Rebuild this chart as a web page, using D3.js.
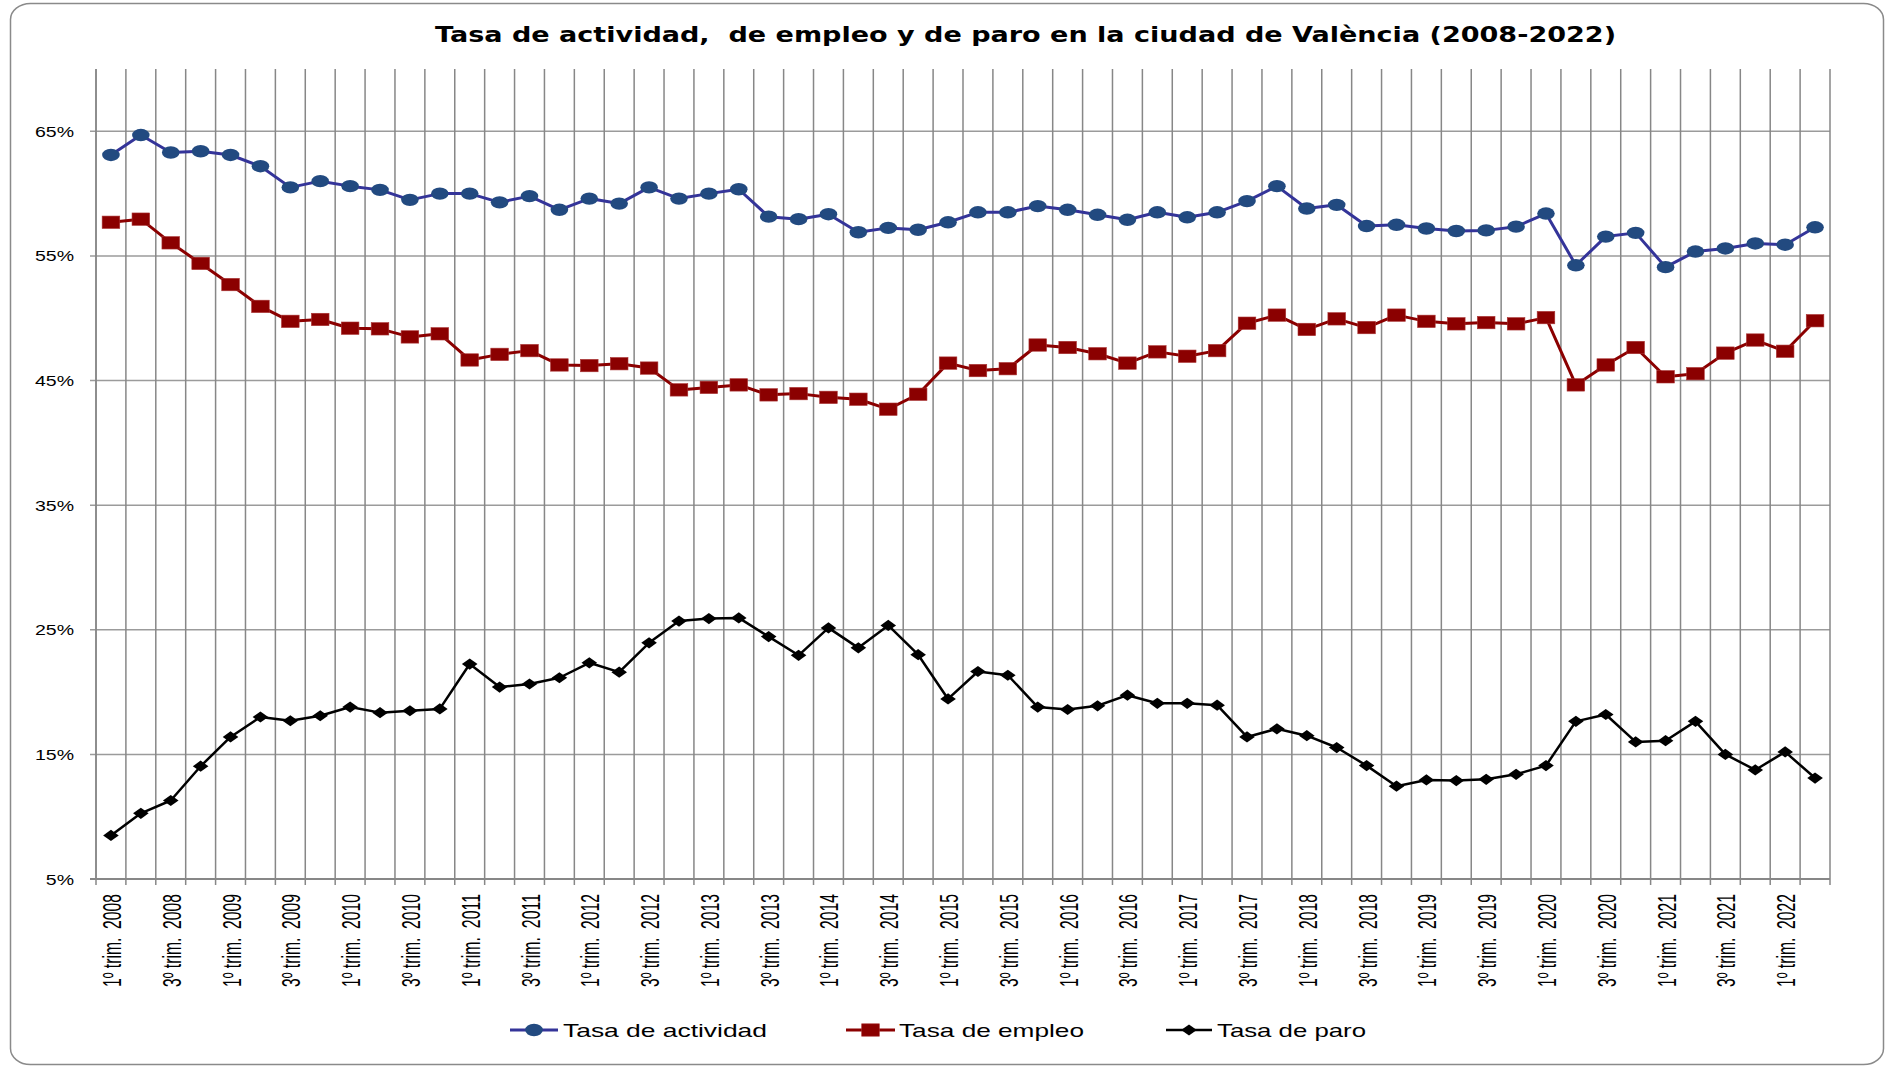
<!DOCTYPE html>
<html>
<head>
<meta charset="utf-8">
<script src="https://cdn.jsdelivr.net/npm/d3@7"></script>
<style>
  html, body { margin: 0; padding: 0; background: #fff; }
  svg { display: block; }
  text { white-space: pre; }
</style>
</head>
<body>
<div id="chart"></div>
<script>
// quarters 1T 2008 .. 2T 2022
const categories = [
  "1T2008","2T2008","3T2008","4T2008","1T2009","2T2009","3T2009","4T2009",
  "1T2010","2T2010","3T2010","4T2010","1T2011","2T2011","3T2011","4T2011",
  "1T2012","2T2012","3T2012","4T2012","1T2013","2T2013","3T2013","4T2013",
  "1T2014","2T2014","3T2014","4T2014","1T2015","2T2015","3T2015","4T2015",
  "1T2016","2T2016","3T2016","4T2016","1T2017","2T2017","3T2017","4T2017",
  "1T2018","2T2018","3T2018","4T2018","1T2019","2T2019","3T2019","4T2019",
  "1T2020","2T2020","3T2020","4T2020","1T2021","2T2021","3T2021","4T2021",
  "1T2022","2T2022"
];

// label shown under every second quarter
const tickLabels = [
  "1º trim.  2008","3º trim.  2008","1º trim.  2009","3º trim.  2009","1º trim.  2010",
  "3º trim.  2010","1º trim.  2011","3º trim.  2011","1º trim.  2012","3º trim.  2012",
  "1º trim.  2013","3º trim.  2013","1º trim.  2014","3º trim.  2014","1º trim.  2015",
  "3º trim.  2015","1º trim.  2016","3º trim.  2016","1º trim.  2017","3º trim.  2017",
  "1º trim.  2018","3º trim.  2018","1º trim.  2019","3º trim.  2019","1º trim.  2020",
  "3º trim.  2020","1º trim.  2021","3º trim.  2021","1º trim.  2022"
];

const yTicks = [5, 15, 25, 35, 45, 55, 65];

const actividad = [
  63.1, 64.7, 63.3, 63.4, 63.1, 62.2, 60.5, 61.0, 60.6, 60.3,
  59.5, 60.0, 60.0, 59.3, 59.8, 58.7, 59.6, 59.2, 60.5, 59.6,
  60.0, 60.35, 58.15, 57.95, 58.35, 56.9, 57.25, 57.1, 57.7, 58.5,
  58.5, 59.0, 58.7, 58.3, 57.9, 58.5, 58.1, 58.5, 59.4, 60.6,
  58.8, 59.1, 57.4, 57.5, 57.2, 57.0, 57.05, 57.35, 58.4, 54.25,
  56.55, 56.85, 54.1, 55.35, 55.6, 56.0, 55.9, 57.3
];

const empleo = [
  57.7, 57.95, 56.05, 54.4, 52.7, 50.95, 49.75, 49.9, 49.2, 49.15,
  48.5, 48.75, 46.65, 47.1, 47.4, 46.25, 46.2, 46.35, 46.0, 44.25,
  44.45, 44.65, 43.85, 43.95, 43.65, 43.5, 42.7, 43.9, 46.4, 45.8,
  45.95, 47.85, 47.65, 47.15, 46.4, 47.3, 46.95, 47.4, 49.6, 50.25,
  49.1, 49.95, 49.25, 50.25, 49.75, 49.55, 49.65, 49.55, 50.05, 44.65,
  46.25, 47.65, 45.3, 45.55, 47.2, 48.25, 47.35, 49.8
];

const paro = [
  8.5, 10.27, 11.3, 14.05, 16.4, 18.0, 17.7, 18.1, 18.8, 18.35,
  18.5, 18.65, 22.25, 20.4, 20.65, 21.15, 22.35, 21.6, 23.95, 25.7,
  25.9, 25.95, 24.45, 22.95, 25.15, 23.55, 25.35, 23.0, 19.45, 21.65,
  21.35, 18.8, 18.6, 18.9, 19.75, 19.1, 19.1, 18.95, 16.4, 17.05,
  16.5, 15.55, 14.1, 12.45, 12.95, 12.9, 13.0, 13.4, 14.1, 17.65,
  18.2, 16.0, 16.1, 17.65, 15.0, 13.75, 15.2, 13.1
];

const seriesNames = ["Tasa de actividad", "Tasa de empleo", "Tasa de paro"];

const W = 1885, H = 1067;
const plot = { left: 96, right: 1830, top: 69, bottom: 879 };
const font = "'Liberation Sans', Arial, sans-serif";

const svg = d3.select("#chart").append("svg")
  .attr("width", W)
  .attr("height", H);

svg.append("rect")
  .attr("width", W).attr("height", H)
  .attr("fill", "#fff");

// outer chart frame
svg.append("rect")
  .attr("x", 10.5).attr("y", 3.5)
  .attr("width", 1873).attr("height", 1061)
  .attr("rx", 20).attr("ry", 16)
  .attr("fill", "#fff")
  .attr("stroke", "#8a8a8a")
  .attr("stroke-width", 1.5);

// title
svg.append("text")
  .attr("x", 435).attr("y", 42)
  .attr("textLength", 1181)
  .attr("lengthAdjust", "spacingAndGlyphs")
  .style("font-family", "'DejaVu Sans', Verdana, sans-serif")
  .style("font-weight", "bold")
  .style("font-size", "22px")
  .attr("fill", "#000")
  .text("Tasa de actividad,  de empleo y de paro en la ciudad de València (2008-2022)");

const x = d3.scaleBand()
  .domain(categories)
  .range([plot.left, plot.right])
  .padding(0);

const y = d3.scaleLinear()
  .domain([5, 70])
  .range([plot.bottom, plot.top]);

const cx = d => x(d) + x.bandwidth() / 2;

// horizontal gridlines
svg.append("g")
  .selectAll("line")
  .data(yTicks)
  .join("line")
  .attr("x1", plot.left - 6).attr("x2", plot.right)
  .attr("y1", d => y(d)).attr("y2", d => y(d))
  .attr("stroke", "#9b9b9b")
  .attr("stroke-width", 1.5);

// vertical gridlines on category boundaries
const bounds = categories.map(c => x(c)).concat([plot.right]);
svg.append("g")
  .selectAll("line")
  .data(bounds)
  .join("line")
  .attr("x1", d => d).attr("x2", d => d)
  .attr("y1", plot.top).attr("y2", plot.bottom + 6)
  .attr("stroke", "#878787")
  .attr("stroke-width", 1.5);

// axes lines
svg.append("line")
  .attr("x1", plot.left).attr("x2", plot.left)
  .attr("y1", plot.top).attr("y2", plot.bottom)
  .attr("stroke", "#878787").attr("stroke-width", 1.5);
svg.append("line")
  .attr("x1", plot.left - 6).attr("x2", plot.right)
  .attr("y1", plot.bottom).attr("y2", plot.bottom)
  .attr("stroke", "#878787").attr("stroke-width", 2);

// y labels
svg.append("g")
  .selectAll("text")
  .data(yTicks)
  .join("text")
  .attr("transform", d => `translate(74,${y(d) + 5.5}) scale(1.32,1)`)
  .attr("text-anchor", "end")
  .style("font-family", font)
  .style("font-size", "14.8px")
  .attr("fill", "#000")
  .text(d => d + "%");

// x labels, every second quarter
const labelCats = categories.filter((c, i) => i % 2 === 0);
svg.append("g")
  .selectAll("text")
  .data(labelCats)
  .join("text")
  .attr("transform", d => `translate(${cx(d) + 10},894) rotate(-90)`)
  .attr("text-anchor", "end")
  .attr("textLength", 93)
  .attr("lengthAdjust", "spacingAndGlyphs")
  .style("font-family", font)
  .style("font-size", "25px")
  .attr("fill", "#000")
  .text((d, i) => tickLabels[i]);

// series
const styles = [
  { data: actividad, line: "#343499", fill: "#224a80", marker: "circle" },
  { data: empleo, line: "#8b0000", fill: "#8b0000", marker: "square" },
  { data: paro, line: "#000000", fill: "#000000", marker: "diamond" }
];

function drawMarker(g, type, fill) {
  if (type === "circle") {
    g.append("ellipse")
      .attr("rx", 8.8).attr("ry", 6.2)
      .attr("fill", fill);
  } else if (type === "square") {
    g.append("rect")
      .attr("x", -8.8).attr("y", -6.2)
      .attr("width", 17.6).attr("height", 12.4)
      .attr("fill", fill)
      .attr("stroke", "#a33")
      .attr("stroke-width", 0.6);
  } else {
    g.append("path")
      .attr("d", "M0,-5.6L7.8,0L0,5.6L-7.8,0Z")
      .attr("fill", fill);
  }
}

const line = d3.line()
  .x((d, i) => cx(categories[i]))
  .y(d => y(d));

styles.forEach(s => {
  svg.append("path")
    .datum(s.data)
    .attr("d", line)
    .attr("fill", "none")
    .attr("stroke", s.line)
    .attr("stroke-width", s.marker === "diamond" ? 2.5 : 3)
    .attr("stroke-linejoin", "round");

  svg.append("g")
    .selectAll("g")
    .data(s.data)
    .join("g")
    .attr("transform", (d, i) => `translate(${cx(categories[i])},${y(d)})`)
    .each(function () { drawMarker(d3.select(this), s.marker, s.fill); });
});

// legend
const legendItems = [
  { name: seriesNames[0], x0: 510, x1: 558, tx: 563, tw: 204 },
  { name: seriesNames[1], x0: 846, x1: 895, tx: 899, tw: 185 },
  { name: seriesNames[2], x0: 1166, x1: 1212, tx: 1217, tw: 149 }
];
const legendY = 1030;

legendItems.forEach((item, i) => {
  const s = styles[i];
  svg.append("line")
    .attr("x1", item.x0).attr("x2", item.x1)
    .attr("y1", legendY).attr("y2", legendY)
    .attr("stroke", s.line)
    .attr("stroke-width", s.marker === "diamond" ? 2.5 : 3);
  const g = svg.append("g")
    .attr("transform", `translate(${(item.x0 + item.x1) / 2},${legendY})`);
  drawMarker(g, s.marker, s.fill);
  svg.append("text")
    .attr("x", item.tx).attr("y", legendY + 7)
    .attr("textLength", item.tw)
    .attr("lengthAdjust", "spacingAndGlyphs")
    .style("font-family", font)
    .style("font-size", "18.6px")
    .attr("fill", "#000")
    .text(item.name);
});
</script>
</body>
</html>
